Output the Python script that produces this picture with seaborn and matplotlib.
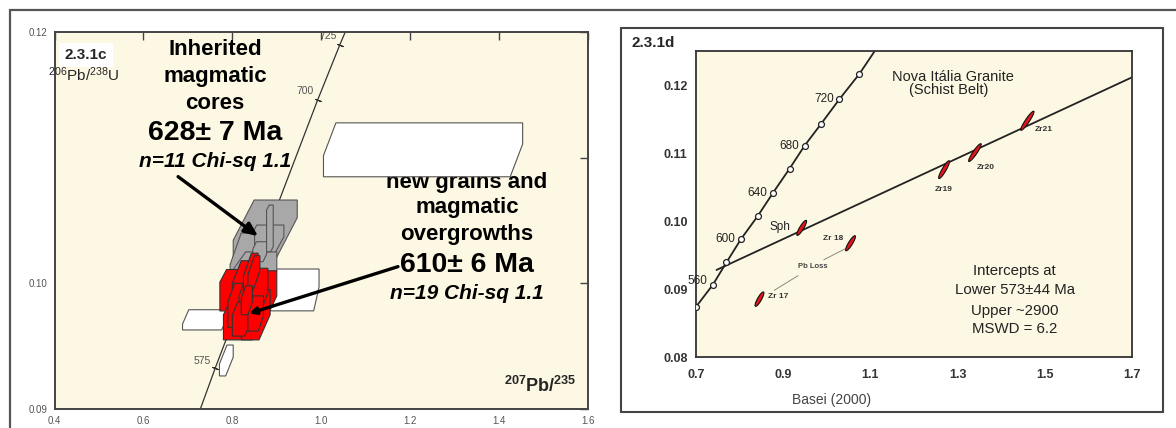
import numpy as np
import matplotlib
matplotlib.use("Agg")
import matplotlib.pyplot as plt
import seaborn as sns
from matplotlib.lines import Line2D
from matplotlib.patches import Rectangle

# ---------------- panel 2.3.1c data ----------------
conc_c_x = [0.728, 0.762, 0.992, 1.042, 1.054]
conc_c_y = [0.0900, 0.0933, 0.1146, 0.1190, 0.1200]
conc_c_tick_x = [0.762, 0.992, 1.042]
conc_c_tick_y = [0.0933, 0.1146, 0.1190]
conc_c_tick_lab = ["575", "700", "725"]

# error boxes (x0, x1, y0, y1, corner cut in x, corner cut in y)
white_x0 = [1.005, 0.860, 0.688, 0.771]
white_x1 = [1.453, 0.995, 0.790, 0.802]
white_y0 = [0.10848, 0.09781, 0.09629, 0.09263]
white_y1 = [0.11277, 0.10114, 0.09790, 0.09509]
white_cx = [0.028, 0.012, 0.014, 0.017]
white_cy = [0.0026, 0.0019, 0.00114, 0.0015]

gray_x0 = [0.802, 0.835, 0.795, 0.800, 0.846, 0.877]
gray_x1 = [0.946, 0.916, 0.850, 0.900, 0.877, 0.892]
gray_y0 = [0.10202, 0.10241, 0.0985, 0.0995, 0.10172, 0.10251]
gray_y1 = [0.10663, 0.10464, 0.1040, 0.1025, 0.10331, 0.10623]
gray_cx = [0.047, 0.020, 0.025, 0.030, 0.008, 0.006]
gray_cy = [0.0032, 0.0013, 0.0025, 0.0015, 0.0006, 0.0004]

red_x0 = [0.772, 0.810, 0.780, 0.820, 0.800, 0.790, 0.815, 0.845, 0.825, 0.835, 0.800, 0.835, 0.820]
red_x1 = [0.870, 0.900, 0.865, 0.885, 0.845, 0.835, 0.860, 0.880, 0.858, 0.862, 0.840, 0.870, 0.845]
red_y0 = [0.0978, 0.0975, 0.0955, 0.0955, 0.0985, 0.0965, 0.0970, 0.0978, 0.0990, 0.0995, 0.0958, 0.0962, 0.0975]
red_y1 = [0.1011, 0.1010, 0.0990, 0.0995, 0.1018, 0.1000, 0.1005, 0.1012, 0.1024, 0.1022, 0.0985, 0.0990, 0.0998]
red_cx = [0.015, 0.020, 0.020, 0.025, 0.020, 0.015, 0.015, 0.015, 0.018, 0.015, 0.012, 0.012, 0.010]
red_cy = [0.0010, 0.0015, 0.0015, 0.0020, 0.0018, 0.0015, 0.0015, 0.0015, 0.0018, 0.0015, 0.0010, 0.0012, 0.0010]

# ---------------- panel 2.3.1d data ----------------
conc_d_age = [540, 560, 580, 600, 620, 640, 660, 680, 700, 720, 740]
conc_d_x = [0.700, 0.7387, 0.7699, 0.8035, 0.8414, 0.8768, 0.9146, 0.9492, 0.9870, 1.0291, 1.0746]
conc_d_y = [0.08738, 0.09063, 0.09392, 0.09737, 0.10071, 0.10416, 0.10770, 0.11109, 0.11429, 0.11793, 0.12162]
conc_d_end_x = [1.0746, 1.109]
conc_d_end_y = [0.12162, 0.1249]
labelled_ages = [560, 600, 640, 680, 720]

disc_x = [0.747, 1.700]
disc_y = [0.0928, 0.12113]

ell_name = ["Sph", "Zr 18", "Zr 17", "Zr19", "Zr20", "Zr21"]
ell_x = [0.9424, 1.0544, 0.8456, 1.269, 1.3397, 1.460]
ell_y = [0.09899, 0.09673, 0.08851, 0.10755, 0.11006, 0.11474]
ell_ax = [0.0105, 0.0106, 0.0093, 0.0118, 0.0139, 0.0147]
ell_ay = [0.0011, 0.0011, 0.00105, 0.0013, 0.0013, 0.0014]

pbloss_x1 = [0.8793, 0.934]
pbloss_y1 = [0.0898, 0.09196]
pbloss_x2 = [0.993, 1.0418]
pbloss_y2 = [0.0943, 0.0959]

# ---------------- style ----------------
sns.set_style("white")
plt.rcParams["font.family"] = ["Liberation Sans", "DejaVu Sans"]
plt.rcParams["mathtext.fontset"] = "custom"
plt.rcParams["mathtext.rm"] = "Liberation Sans"
plt.rcParams["mathtext.it"] = "Liberation Sans:italic"
plt.rcParams["mathtext.bf"] = "Liberation Sans:bold"

W, H = 1176, 428
fig = plt.figure(figsize=(W / 100, H / 100), dpi=100)
fig.patch.set_facecolor("white")

cream = "#fdf8e3"

# page frame lines
fig.add_artist(Line2D([10 / W, 1.0], [1 - 10 / H] * 2, transform=fig.transFigure, color="#555555", lw=1.6))
fig.add_artist(Line2D([10 / W] * 2, [0.0, 1 - 10 / H], transform=fig.transFigure, color="#555555", lw=1.6))
# right panel frame
fig.add_artist(Rectangle((621 / W, 1 - 412 / H), (1163 - 621) / W, (412 - 28) / H,
                         transform=fig.transFigure, fill=False, edgecolor="#444444", lw=1.5))


def hexagon(x0, x1, y0, y1, cx, cy):
    return [(x0, y0), (x1 - cx, y0), (x1, y0 + cy), (x1, y1), (x0 + cx, y1), (x0, y1 - cy)]


def draw_boxes(ax, X0, X1, Y0, Y1, CX, CY, fc, ec, z):
    for x0, x1, y0, y1, cx, cy in zip(X0, X1, Y0, Y1, CX, CY):
        v = hexagon(x0, x1, y0, y1, cx, cy)
        xs, ys = zip(*v)
        ax.fill(xs, ys, facecolor=fc, edgecolor=ec, lw=0.8, zorder=z)


# ================= LEFT PANEL =================
ax1 = fig.add_axes([54.5 / W, 1 - 409 / H, (588 - 54.5) / W, (409 - 32) / H])
ax1.set_facecolor(cream)
ax1.set_xlim(0.4, 1.6)
ax1.set_ylim(0.09, 0.12)
for s in ax1.spines.values():
    s.set_color("#444444")
    s.set_linewidth(1.4)
ax1.set_xticks([0.4, 0.6, 0.8, 1.0, 1.2, 1.4, 1.6])
ax1.set_xticklabels(["0.4", "0.6", "0.8", "1.0", "1.2", "1.4", "1.6"])
ax1.set_yticks([0.09, 0.10, 0.11, 0.12])
ax1.set_yticklabels(["0.09", "0.10", "", "0.12"])
ax1.tick_params(direction="in", length=6, width=1, top=True, right=True,
                labelsize=7, labelcolor="#555555", color="#444444", pad=5)

sns.lineplot(x=conc_c_x, y=conc_c_y, ax=ax1, color="#333333", lw=0.9, sort=False,
             estimator=None, zorder=1.5)
ax1.scatter(conc_c_tick_x, conc_c_tick_y, marker=(2, 2, 69), s=18, color="#333333", lw=0.8, zorder=1.6)
for lab, (tx, ty) in zip(conc_c_tick_lab, [(0.7317, 0.09382), (0.9634, 0.11531), (1.0152, 0.11968)]):
    ax1.text(tx, ty, lab, fontsize=7.5, color="#555555", ha="center", va="center", zorder=2)

draw_boxes(ax1, white_x0, white_x1, white_y0, white_y1, white_cx, white_cy, "white", "#555555", 3)
draw_boxes(ax1, gray_x0, gray_x1, gray_y0, gray_y1, gray_cx, gray_cy, "#a8a8a8", "#555555", 4)
draw_boxes(ax1, red_x0, red_x1, red_y0, red_y1, red_cx, red_cy, "#ff0000", "#333333", 5)

ax1.text(0.4708, 0.11817, "2.3.1c", fontsize=11, fontweight="bold", ha="center", va="center",
         bbox=dict(boxstyle="square,pad=0.35", facecolor="white", edgecolor="none"), zorder=6)
ax1.text(0.465, 0.11658, r"$^{206}$Pb/$^{238}$U", fontsize=11, ha="center", va="center", zorder=6)

bold_big = dict(fontweight="bold", ha="center", va="center", color="black")
ax1.text(0.761, 0.11857, "Inherited", fontsize=16, zorder=2, **bold_big)
ax1.text(0.761, 0.11642, "magmatic", fontsize=16, zorder=2, **bold_big)
ax1.text(0.761, 0.11435, "cores", fontsize=16, zorder=2, **bold_big)
ax1.text(0.761, 0.11196, "628± 7 Ma", fontsize=20.5, zorder=2, **bold_big)
ax1.text(0.761, 0.10966, "n=11 Chi-sq 1.1", fontsize=15, style="italic", zorder=2, **bold_big)

ax1.text(1.3276, 0.10806, "new grains and", fontsize=16, zorder=2, **bold_big)
ax1.text(1.3276, 0.10600, "magmatic", fontsize=16, zorder=2, **bold_big)
ax1.text(1.3276, 0.10385, "overgrowths", fontsize=16, zorder=2, **bold_big)
ax1.text(1.3276, 0.10146, "610± 6 Ma", fontsize=20.5, zorder=2, **bold_big)
ax1.text(1.3276, 0.09923, "n=19 Chi-sq 1.1", fontsize=15, style="italic", zorder=2, **bold_big)

ax1.text(1.492, 0.09185, r"$\mathbf{^{207}}$Pb/$\mathbf{^{235}}$", fontsize=13, fontweight="bold",
         ha="center", va="center", zorder=6)

ax1.annotate("", xy=(0.858, 0.10375), xytext=(0.678, 0.10849),
             arrowprops=dict(arrowstyle="-|>,head_length=0.8,head_width=0.35", color="black", lw=2.4,
                             shrinkA=0, shrinkB=0), zorder=7)
ax1.annotate("", xy=(0.838, 0.09760), xytext=(1.1726, 0.10133),
             arrowprops=dict(arrowstyle="-|>,head_length=0.4,head_width=0.2", color="black", lw=2.4,
                             shrinkA=0, shrinkB=0), zorder=7)

# ================= RIGHT PANEL =================
ax2 = fig.add_axes([696 / W, 1 - 357 / H, (1132 - 696) / W, (357 - 51) / H])
ax2.set_facecolor(cream)
ax2.set_xlim(0.7, 1.7)
ax2.set_ylim(0.08, 0.125)
for s in ax2.spines.values():
    s.set_color("#333333")
    s.set_linewidth(1.3)
ax2.set_xticks([0.7, 0.9, 1.1, 1.3, 1.5, 1.7])
ax2.set_xticklabels(["0.7", "0.9", "1.1", "1.3", "1.5", "1.7"])
ax2.set_yticks([0.08, 0.09, 0.10, 0.11, 0.12])
ax2.set_yticklabels(["0.08", "0.09", "0.10", "0.11", "0.12"])
ax2.tick_params(axis="x", direction="in", length=4, width=1, labelsize=9, pad=9, colors="#333333")
ax2.tick_params(axis="y", direction="out", length=3, width=1, labelsize=9, pad=3, colors="#333333")
for t in ax2.get_xticklabels() + ax2.get_yticklabels():
    t.set_fontweight("bold")

sns.lineplot(x=conc_d_x, y=conc_d_y, ax=ax2, color="#222222", lw=1.3, sort=False, estimator=None, zorder=2)
sns.lineplot(x=conc_d_end_x, y=conc_d_end_y, ax=ax2, color="#222222", lw=1.3, sort=False, estimator=None, zorder=2)
sns.scatterplot(x=conc_d_x, y=conc_d_y, ax=ax2, marker="o", s=18, facecolor="white",
                edgecolor="#222222", linewidth=0.9, zorder=3)
for age, cx, cy in zip(conc_d_age, conc_d_x, conc_d_y):
    if age in labelled_ages:
        dy = 3 if age == 560 else 0
        ax2.annotate(str(age), (cx, cy), xytext=(-4, dy), textcoords="offset points",
                     ha="right", va="center", fontsize=8.5, color="#222222", zorder=4)

sns.lineplot(x=disc_x, y=disc_y, ax=ax2, color="#222222", lw=1.3, sort=False, estimator=None, zorder=2)
sns.lineplot(x=pbloss_x1, y=pbloss_y1, ax=ax2, color="#777777", lw=0.6, sort=False, estimator=None, zorder=2)
sns.lineplot(x=pbloss_x2, y=pbloss_y2, ax=ax2, color="#777777", lw=0.6, sort=False, estimator=None, zorder=2)

fig.canvas.draw()
bb = ax2.get_window_extent()
kx = bb.width / (1.7 - 0.7)
ky = bb.height / (0.125 - 0.08)
tt = np.linspace(0, 2 * np.pi, 80)
for ex, ey, eax, eay in zip(ell_x, ell_y, ell_ax, ell_ay):
    apx, apy = eax * kx, eay * ky
    L = np.hypot(apx, apy)
    bpx, bpy = 2.0 * apy / L, -2.0 * apx / L
    xs = ex + np.cos(tt) * eax + np.sin(tt) * bpx / kx
    ys = ey + np.cos(tt) * eay + np.sin(tt) * bpy / ky
    ax2.fill(xs, ys, facecolor="#e3141b", edgecolor="#111111", lw=0.8, zorder=5)

ax2.text(0.892, 0.0991, "Sph", fontsize=8.5, ha="center", va="center", color="#222222")
small = dict(fontsize=6, fontweight="bold", ha="center", va="center", color="#333333")
ax2.text(1.0148, 0.0975, "Zr 18", **small)
ax2.text(0.8877, 0.0889, "Zr 17", **small)
ax2.text(1.268, 0.1047, "Zr19", **small)
ax2.text(1.365, 0.1078, "Zr20", **small)
ax2.text(1.498, 0.1134, "Zr21", **small)
ax2.text(0.9677, 0.0933, "Pb Loss", fontsize=5.5, fontweight="bold", ha="center", va="center", color="#444444")

ax2.text(1.289, 0.1212, "Nova Itália Granite", fontsize=10.5, ha="center", va="center", color="#222222")
ax2.text(1.279, 0.1192, "(Schist Belt)", fontsize=10.5, ha="center", va="center", color="#222222")
for txt, yy in zip(["Intercepts at", "Lower 573±44 Ma", "Upper ~2900", "MSWD = 6.2"],
                   [0.0926, 0.0898, 0.0868, 0.0841]):
    ax2.text(1.4306, yy, txt, fontsize=10.8, ha="center", va="center", color="#222222")

fig.text(653 / W, 1 - 43 / H, "2.3.1d", fontsize=11, fontweight="bold", ha="center", va="center")
fig.text(831.6 / W, 1 - 400 / H, "Basei (2000)", fontsize=10, ha="center", va="center", color="#444444")

fig.savefig("out.png", dpi=100)
